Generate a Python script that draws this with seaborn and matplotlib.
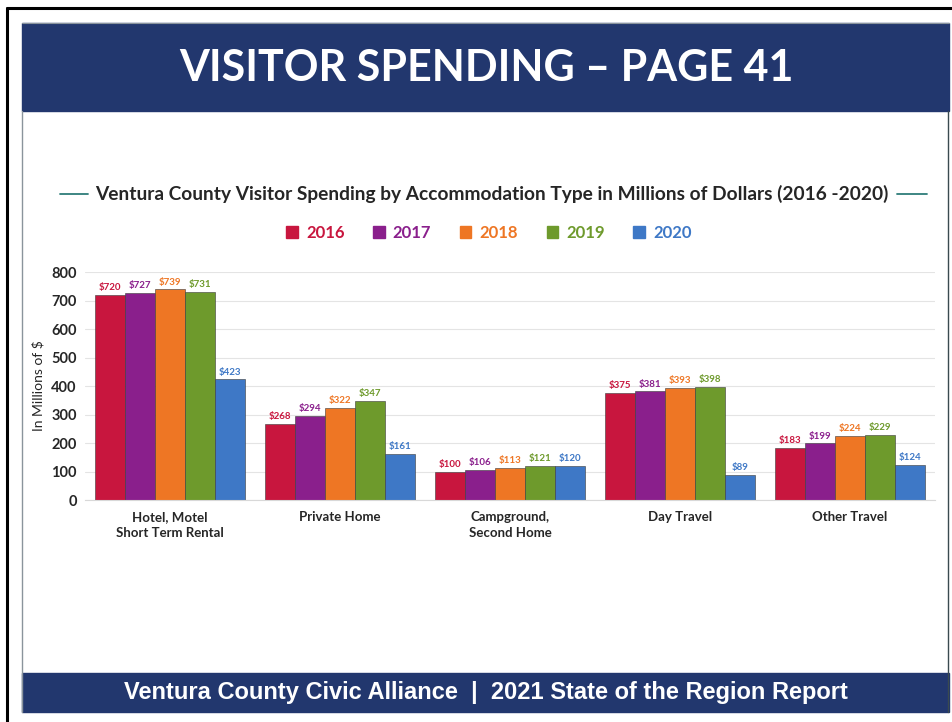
import pandas as pd
import matplotlib.pyplot as plt
import matplotlib.patches as mpatches
from matplotlib.lines import Line2D
import seaborn as sns

categories = ['Hotel, Motel\nShort Term Rental', 'Private Home', 'Campground,\nSecond Home',
              'Day Travel', 'Other Travel']
years = ['2016', '2017', '2018', '2019', '2020']
spend_2016 = [720, 268, 100, 375, 183]
spend_2017 = [727, 294, 106, 381, 199]
spend_2018 = [739, 322, 113, 393, 224]
spend_2019 = [731, 347, 121, 398, 229]
spend_2020 = [423, 161, 120, 89, 124]
y_ticks = [0, 100, 200, 300, 400, 500, 600, 700, 800]

colors = ['#C8163E', '#8A1F8C', '#EE7624', '#6E9A2C', '#3E78C6']
navy = '#22376E'

rows = []
for yr, vals in zip(years, [spend_2016, spend_2017, spend_2018, spend_2019, spend_2020]):
    for cat, v in zip(categories, vals):
        rows.append({'category': cat, 'year': yr, 'spend': v})
df = pd.DataFrame(rows)

sns.set_style('white')
plt.rcParams['font.family'] = ['Lato', 'DejaVu Sans']

W, H = 953, 722
fig = plt.figure(figsize=(W / 100, H / 100), dpi=100)
fig.patch.set_facecolor('white')


def px_rect(x0, y0, x1, y1, **kw):
    # rectangle in pixel coords measured from the top-left
    r = mpatches.Rectangle((x0 / W, 1 - y1 / H), (x1 - x0) / W, (y1 - y0) / H,
                           transform=fig.transFigure, **kw)
    fig.patches.append(r)


def px_line(xs, ys, **kw):
    fig.lines.append(Line2D([x / W for x in xs], [1 - y / H for y in ys],
                            transform=fig.transFigure, **kw))


# page frame
px_line([7, 7], [8, 722], color='black', lw=2.2)
px_line([7, 953], [8, 8], color='black', lw=2.2)
px_line([22, 22], [111, 712], color='#8A949C', lw=1.0)
px_line([948, 948], [111, 712], color='#3A4A50', lw=1.0)
px_rect(22, 23, 949, 111, color=navy, zorder=0)
px_line([22, 949], [23, 23], color='#8A949C', lw=0.8)
px_rect(22, 673, 949, 712, color=navy, zorder=0)

fig.text(486 / W, 1 - 68 / H, 'VISITOR SPENDING \u2013 PAGE 41', color='white',
         fontsize=31, fontweight='bold', ha='center', va='center')
fig.text(486 / W, 1 - 693 / H,
         'Ventura County Civic Alliance  |  2021 State of the Region Report',
         color='white', fontsize=17, fontweight='bold', ha='center', va='center',
         family=['Liberation Sans', 'DejaVu Sans'])

# chart title with teal rules on both sides
fig.text(492 / W, 1 - 194 / H,
         'Ventura County Visitor Spending by Accommodation Type in Millions of Dollars (2016 -2020)',
         color='#262626', fontsize=13.8, fontweight='bold', ha='center', va='center')
px_line([60, 88], [194, 194], color='#2E7D7A', lw=1.3)
px_line([897, 927], [194, 194], color='#2E7D7A', lw=1.3)

ax = fig.add_axes([85 / W, 1 - 500 / H, 850 / W, 228 / H])
sns.barplot(data=df, x='category', y='spend', hue='year', palette=colors,
            width=0.885, saturation=1, edgecolor='#3a3a3a', linewidth=0.4,
            legend=False, ax=ax)

for cont, c in zip(ax.containers, colors):
    ax.bar_label(cont, labels=[f'${int(b.get_height())}' for b in cont], color=c,
                 fontsize=7, fontweight='bold', padding=2)

ax.set_ylim(0, 800)
ax.set_xlim(-0.5, 4.5)
ax.set_yticks(y_ticks)
ax.set_yticklabels([str(t) for t in y_ticks], fontsize=10.5, color='#262626', fontweight='bold')
ax.yaxis.grid(True, color='#E4E4E4', lw=0.8)
ax.set_axisbelow(True)
ax.tick_params(axis='y', length=0, pad=6)
ax.tick_params(axis='x', length=0, pad=8)
for lab in ax.get_xticklabels():
    lab.set_fontsize(9.5)
    lab.set_fontweight('bold')
    lab.set_color('#262626')
    lab.set_verticalalignment('top')
    lab.set_linespacing(1.4)
for s in ['top', 'right', 'left']:
    ax.spines[s].set_visible(False)
ax.spines['bottom'].set_color('#D8D8D8')
ax.set_xlabel('')
ax.set_ylabel('In Millions of $', fontsize=10, color='#262626', labelpad=5)

handles = [mpatches.Patch(color=c, label=y) for c, y in zip(colors, years)]
leg = fig.legend(handles=handles, loc='center', bbox_to_anchor=(489 / W, 1 - 233 / H),
                 ncol=5, frameon=False, fontsize=12, handlelength=0.7, handleheight=0.7,
                 handletextpad=0.5, columnspacing=1.7, labelcolor=colors)
for t in leg.get_texts():
    t.set_fontweight('bold')

fig.savefig('out.png', dpi=100)
